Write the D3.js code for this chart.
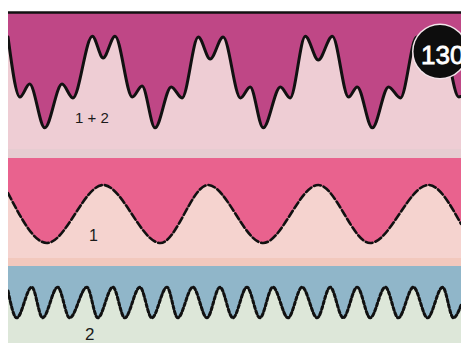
<!DOCTYPE html>
<html>

<head>
  <title>Waves 1 + 2</title>
  <script src="https://cdn.jsdelivr.net/npm/d3@7/dist/d3.min.js"></script>
  <style type="text/css">
    body {
      margin: 0;
      background: #fff;
    }

    text {
      font-family: 'Liberation Sans', Arial, sans-serif;
    }
  </style>
</head>

<body>
  <div id="chartArea"></div>
  <script type="text/javascript">
    // time in ms (one period of wave 1 = 10 ms), amplitude in units of wave 1
    let sumTime = [0, 1.1, 2.0, 3.4, 5.0, 6.0, 7.8, 8.8, 9.9, 11.5, 12.4, 13.6, 15.1, 16.1, 17.6, 18.7, 19.9,
      21.5, 22.4, 23.6, 25.2, 26.1, 27.5, 28.7, 30.0, 31.5, 32.3, 33.7, 35.2, 36.3, 37.8, 38.9, 40.1, 41.7, 41.9];
    let sumValue = [1.55, -0.52, -0.07, -1.58, -0.07, -0.55, 1.58, 0.83, 1.58, -0.52, -0.14, -1.58, -0.17, -0.55, 1.55, 0.79, 1.55,
      -0.55, -0.17, -1.58, -0.17, -0.55, 1.58, 0.76, 1.58, -0.52, -0.17, -1.58, -0.17, -0.55, 1.55, 0.8, 1.55, -0.52, -0.5];

    let wave1Time = [0, 3.6, 8.8, 14.1, 18.5, 23.6, 28.7, 33.5, 38.9, 41.9];
    let wave1Value = [0.72, -1, 1, -1, 1, -1, 1, -1, 1, -0.34];

    let wave2Time = [0, 0.8, 2.2, 3.2, 4.6, 5.7, 7.3, 8.3, 9.7, 10.8, 12.2, 13.3, 14.7, 15.7, 17.1, 18.4, 19.6,
      20.8, 22.1, 23.3, 24.5, 25.9, 27.2, 28.6, 29.8, 31.0, 32.3, 33.5, 34.9, 36.1, 37.5, 38.8, 40.2, 41.2, 41.9];
    let wave2Value = [0.4, -0.53, 0.53, -0.53, 0.53, -0.53, 0.53, -0.53, 0.53, -0.53, 0.53, -0.53, 0.53, -0.53, 0.53, -0.53, 0.53,
      -0.53, 0.53, -0.53, 0.53, -0.53, 0.53, -0.53, 0.53, -0.53, 0.53, -0.53, 0.53, -0.53, 0.53, -0.53, 0.53, -0.53, -0.1];

    let panelLabels = ['1 + 2', '1', '2'];
    let pageNumber = '130';

    let w = 465;
    let h = 346;

    let svg = d3.select('#chartArea').append('svg')
      .attr('width', w)
      .attr('height', h);

    let xScale = d3.scaleLinear()
      .domain([0, 41.9])
      .range([8, 461]);

    let panels = [
      { time: sumTime, value: sumValue, top: 12, bottom: 149, band: 158, center: 82,
        dark: '#bf4786', light: '#eecdd4', bandColor: '#e6ccd1', dash: null, width: 3,
        label: panelLabels[0], lx: 75, ly: 123, ls: 15 },
      { time: wave1Time, value: wave1Value, top: 158, bottom: 258, band: 266, center: 214,
        dark: '#e9628e', light: '#f5d3cf', bandColor: '#f2c8bd', dash: '7,3', width: 2.6,
        label: panelLabels[1], lx: 89, ly: 241, ls: 16 },
      { time: wave2Time, value: wave2Value, top: 266, bottom: 343, band: 343, center: 302.5,
        dark: '#90b6c9', light: '#dde7d9', bandColor: '#dde7d9', dash: '3,2.4', width: 3,
        label: panelLabels[2], lx: 85, ly: 340, ls: 17 }
    ];

    svg.append('defs').append('clipPath')
      .attr('id', 'clip')
      .append('rect')
      .attr('x', 8)
      .attr('y', 0)
      .attr('width', 453)
      .attr('height', h);

    let g = svg.append('g').attr('clip-path', 'url(#clip)');

    panels.forEach(p => {
      let yScale = d3.scaleLinear()
        .domain([-1, 1])
        .range([p.center + 29, p.center - 29]);

      let pts = p.time.map((t, i) => [t, p.value[i]]);

      g.append('rect')
        .attr('x', 8)
        .attr('y', p.top)
        .attr('width', 453)
        .attr('height', p.bottom - p.top)
        .attr('fill', p.light);

      g.append('rect')
        .attr('x', 8)
        .attr('y', p.bottom)
        .attr('width', 453)
        .attr('height', p.band - p.bottom)
        .attr('fill', p.bandColor);

      let area = d3.area()
        .x(d => xScale(d[0]))
        .y0(p.top)
        .y1(d => yScale(d[1]))
        .curve(d3.curveMonotoneX);

      g.append('path')
        .datum(pts)
        .attr('d', area)
        .attr('fill', p.dark);

      let line = d3.line()
        .x(d => xScale(d[0]))
        .y(d => yScale(d[1]))
        .curve(d3.curveMonotoneX);

      g.append('path')
        .datum(pts)
        .attr('d', line)
        .attr('fill', 'none')
        .attr('stroke', '#111')
        .attr('stroke-width', p.width)
        .attr('stroke-dasharray', p.dash)
        .attr('stroke-linecap', 'round');

      svg.append('text')
        .attr('x', p.lx)
        .attr('y', p.ly)
        .attr('font-size', p.ls)
        .attr('fill', '#1a1a1a')
        .attr('xml:space', 'preserve')
        .text(p.label);
    });

    // top rule of the first panel
    g.append('line')
      .attr('x1', 8)
      .attr('x2', 461)
      .attr('y1', 12.5)
      .attr('y2', 12.5)
      .attr('stroke', '#111')
      .attr('stroke-width', 2.5);

    // page number badge, cut off at the right edge
    g.append('circle')
      .attr('cx', 440)
      .attr('cy', 51.5)
      .attr('r', 28)
      .attr('fill', '#f3e4ea');

    g.append('circle')
      .attr('cx', 440)
      .attr('cy', 51.5)
      .attr('r', 26.5)
      .attr('fill', '#0d0d0d');

    g.append('text')
      .attr('x', 421)
      .attr('y', 63.5)
      .attr('font-size', 26)
      .attr('fill', '#fff')
      .attr('stroke', '#fff')
      .attr('stroke-width', 0.8)
      .text(pageNumber);
  </script>
</body>

</html>
